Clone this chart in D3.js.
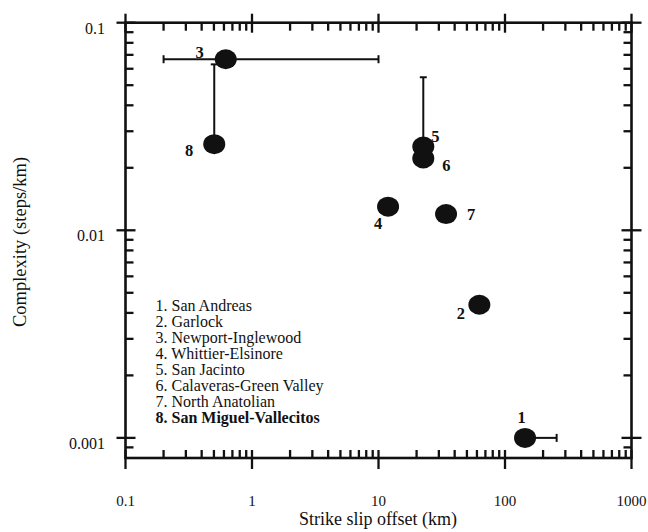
<!DOCTYPE html>
<html>
<head>
<meta charset="utf-8">
<script src="https://cdn.jsdelivr.net/npm/d3@7/dist/d3.min.js"></script>
<style>
  html, body { margin: 0; padding: 0; background: #fff; }
  svg { display: block; }
  text { font-family: "Liberation Serif", "DejaVu Serif", serif; fill: #111; }
</style>
</head>
<body>
<svg id="chart" width="648" height="532"></svg>
<script>
// ---- data ----
const faultIds   = [1, 2, 3, 4, 5, 6, 7, 8];
const faultNames = ["San Andreas", "Garlock", "Newport-Inglewood", "Whittier-Elsinore",
                    "San Jacinto", "Calaveras-Green Valley", "North Anatolian", "San Miguel-Vallecitos"];
const offsetKm   = [144, 62.7, 0.62, 11.9, 22.6, 22.6, 34.2, 0.503];
const complexity = [0.00100, 0.00438, 0.0667, 0.0130, 0.0253, 0.0222, 0.01197, 0.0260];
// error bars
const errXLow    = [null, null, 0.2, null, null, null, null, null];
const errXHigh   = [256, null, 10, null, null, null, null, null];
const errYHigh   = [null, null, null, null, 0.0546, null, null, 0.063];
const xTickVals  = [0.1, 1, 10, 100, 1000];
const xTickLbls  = ["0.1", "1", "10", "100", "1000"];
const yTickVals  = [0.1, 0.01, 0.001];
const yTickLbls  = ["0.1", "0.01", "0.001"];
const xMinorVals = [0.2, 0.3, 0.4, 0.5, 0.6, 0.7, 0.8, 0.9,
                    2, 3, 4, 5, 6, 7, 8, 9,
                    20, 30, 40, 50, 60, 70, 80, 90,
                    200, 300, 400, 500, 600, 700, 800, 900];
const yMinorVals = [0.0009,
                    0.002, 0.003, 0.004, 0.005, 0.006, 0.007, 0.008, 0.009,
                    0.02, 0.03, 0.04, 0.05, 0.06, 0.07, 0.08, 0.09];
const xTitle = "Strike slip offset (km)";
const yTitle = "Complexity (steps/km)";
// label placement offsets (px) for point numbers
const labelDx = [-3.5, -18.5, -26, -10, 12, 23, 25, -25];
const labelDy = [-21, 9, -7, 17, -10, 7, 0, 6.5];

// ---- layout ----
const svg = d3.select("#chart");
const L = 125.5, R = 631.5, T = 22.7, B = 458;
const x = d3.scaleLog().domain([0.1, 1000]).range([L, R]);
const y = d3.scaleLog().domain([0.0008, 0.1]).range([B, T]);

const ink = "#111";
const axisW = 2.6, tickW = 2.3, minorLen = 8;

// frame
svg.append("rect").attr("x", L).attr("y", T).attr("width", R - L).attr("height", B - T)
  .attr("fill", "none").attr("stroke", ink).attr("stroke-width", axisW);

function tickGroup() {
  return svg.append("g").attr("stroke", ink).attr("stroke-width", tickW);
}
// minor ticks (inward)
tickGroup().selectAll("line").data(xMinorVals).join("line")
  .attr("x1", d => x(d)).attr("x2", d => x(d)).attr("y1", B).attr("y2", B - minorLen);
tickGroup().selectAll("line").data(xMinorVals).join("line")
  .attr("x1", d => x(d)).attr("x2", d => x(d)).attr("y1", T).attr("y2", T + minorLen);
tickGroup().selectAll("line").data(yMinorVals).join("line")
  .attr("y1", d => y(d)).attr("y2", d => y(d)).attr("x1", L).attr("x2", L + minorLen);
tickGroup().selectAll("line").data(yMinorVals).join("line")
  .attr("y1", d => y(d)).attr("y2", d => y(d)).attr("x1", R).attr("x2", R - minorLen);
// major ticks (crossing)
tickGroup().selectAll("line").data(xTickVals).join("line")
  .attr("x1", d => x(d)).attr("x2", d => x(d)).attr("y1", B - 8).attr("y2", B + 11);
tickGroup().selectAll("line").data(xTickVals).join("line")
  .attr("x1", d => x(d)).attr("x2", d => x(d)).attr("y1", T - 9).attr("y2", T + 10);
tickGroup().selectAll("line").data(yTickVals).join("line")
  .attr("y1", d => y(d)).attr("y2", d => y(d)).attr("x1", L - 9).attr("x2", L + 10);
tickGroup().selectAll("line").data(yTickVals).join("line")
  .attr("y1", d => y(d)).attr("y2", d => y(d)).attr("x1", R - 10).attr("x2", R + 10);

// tick labels
svg.append("g").selectAll("text").data(xTickVals).join("text")
  .attr("x", d => x(d)).attr("y", 505.5).attr("text-anchor", "middle")
  .attr("font-size", 15).text((d, i) => xTickLbls[i]);
svg.append("g").selectAll("text").data(yTickVals).join("text")
  .attr("x", 105).attr("y", d => y(d) + 11).attr("text-anchor", "end")
  .attr("font-size", 16).text((d, i) => yTickLbls[i]);

// axis titles
svg.append("text").attr("x", 378).attr("y", 525).attr("text-anchor", "middle")
  .attr("font-size", 18).text(xTitle);
svg.append("text").attr("transform", "translate(26,242) rotate(-90)")
  .attr("text-anchor", "middle").attr("font-size", 18.5).text(yTitle);

// error bars
const eb = svg.append("g").attr("stroke", ink).attr("stroke-width", 2);
faultIds.forEach((id, i) => {
  const cx = x(offsetKm[i]), cy = y(complexity[i]);
  if (errXLow[i] != null) {
    eb.append("line").attr("x1", x(errXLow[i])).attr("x2", cx).attr("y1", cy).attr("y2", cy);
    eb.append("line").attr("x1", x(errXLow[i])).attr("x2", x(errXLow[i])).attr("y1", cy - 4).attr("y2", cy + 4);
  }
  if (errXHigh[i] != null) {
    eb.append("line").attr("x1", cx).attr("x2", x(errXHigh[i])).attr("y1", cy).attr("y2", cy);
    eb.append("line").attr("x1", x(errXHigh[i])).attr("x2", x(errXHigh[i])).attr("y1", cy - 4).attr("y2", cy + 4);
  }
  if (errYHigh[i] != null) {
    eb.append("line").attr("x1", cx).attr("x2", cx).attr("y1", cy).attr("y2", y(errYHigh[i]));
    eb.append("line").attr("x1", cx - 3.5).attr("x2", cx + 3.5).attr("y1", y(errYHigh[i])).attr("y2", y(errYHigh[i]));
  }
});

// points
svg.append("g").selectAll("ellipse").data(faultIds).join("ellipse")
  .attr("cx", (d, i) => x(offsetKm[i])).attr("cy", (d, i) => y(complexity[i]))
  .attr("rx", 11).attr("ry", 10).attr("fill", ink);

// point labels
svg.append("g").selectAll("text").data(faultIds).join("text")
  .attr("x", (d, i) => x(offsetKm[i]) + labelDx[i])
  .attr("y", (d, i) => y(complexity[i]) + labelDy[i])
  .attr("dy", "0.35em").attr("text-anchor", "middle")
  .attr("font-size", 16.5).attr("font-weight", "bold").text(d => d);

// legend
svg.append("g").selectAll("text").data(faultIds).join("text")
  .attr("x", 155.5).attr("y", (d, i) => 311 + 16 * i)
  .attr("font-size", 16).attr("font-weight", (d, i) => i === 7 ? "bold" : "normal")
  .text((d, i) => `${d}. ${faultNames[i]}`);
</script>
</body>
</html>
